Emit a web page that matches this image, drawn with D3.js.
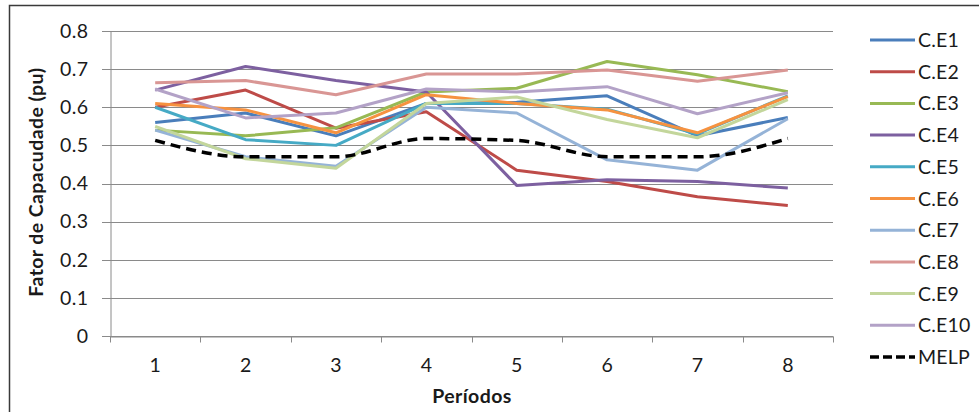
<!DOCTYPE html>
<html><head><meta charset="utf-8">
<script src="https://cdn.jsdelivr.net/npm/d3@7"></script>
<style>
html,body{margin:0;padding:0;background:#fff;}
svg{display:block;}
text{font-family:Lato,"Open Sans",sans-serif;fill:#1a1a1a;}
</style></head><body>
<svg id="chart" width="979" height="412"></svg>
<script>
const periods = ["1","2","3","4","5","6","7","8"];
const yTicks = [0,0.1,0.2,0.3,0.4,0.5,0.6,0.7,0.8];
const seriesNames = ["C.E1","C.E2","C.E3","C.E4","C.E5","C.E6","C.E7","C.E8","C.E9","C.E10","MELP"];
const ce1  = [0.560,0.585,0.525,0.610,0.613,0.630,0.525,0.573];
const ce2  = [0.600,0.645,0.545,0.588,0.435,0.405,0.365,0.342];
const ce3  = [0.540,0.525,0.546,0.640,0.650,0.720,0.685,0.641];
const ce4  = [0.645,0.707,0.670,0.640,0.395,0.410,0.405,0.388];
const ce5  = [0.600,0.515,0.500,0.610,0.610,0.595,0.530,0.630];
const ce6  = [0.610,0.593,0.533,0.633,0.610,0.593,0.533,0.628];
const ce7  = [0.540,0.470,0.445,0.600,0.585,0.462,0.435,0.570];
const ce8  = [0.664,0.670,0.633,0.687,0.687,0.698,0.668,0.698];
const ce9  = [0.550,0.465,0.440,0.610,0.627,0.568,0.520,0.620];
const ce10 = [0.648,0.572,0.585,0.648,0.640,0.654,0.583,0.638];
const melp = [0.513,0.470,0.470,0.518,0.513,0.470,0.470,0.518];
const colors = ["#4a7ebb","#be4b48","#98b954","#7d60a0","#46aac5","#f69240","#95b3d7","#d99694","#c3d69b","#b3a2c7","#000000"];

const allValues = [ce1,ce2,ce3,ce4,ce5,ce6,ce7,ce8,ce9,ce10,melp];

const svg = d3.select("#chart");
// outer frame
svg.append("rect").attr("x",9.5).attr("y",5.5).attr("width",1000).attr("height",500)
  .attr("fill","none").attr("stroke","#3a3a3a").attr("stroke-width",1.5);

const L = 110, R = 833, T = 31, B = 336;
const x = d3.scaleBand().domain(periods).range([L,R]).paddingInner(0).paddingOuter(0);
const y = d3.scaleLinear().domain([0,0.8]).range([B,T]);

// gridlines
svg.append("g").selectAll("line").data(yTicks).join("line")
  .attr("x1",L-8).attr("x2",R).attr("y1",d=>Math.round(y(d))+0.5).attr("y2",d=>Math.round(y(d))+0.5)
  .attr("stroke","#8a8a8a").attr("stroke-width",1);

// y axis
const yAxis = d3.axisLeft(y).tickValues(yTicks).tickSize(0).tickPadding(22).tickFormat(d=>d===0?"0":d3.format(".1f")(d));
const gy = svg.append("g").attr("transform",`translate(${L+0.5},0)`).call(yAxis);
gy.select(".domain").attr("stroke","#8a8a8a");
gy.selectAll("text").attr("font-size",19.5).attr("fill","#1a1a1a").style("font-family","Lato,sans-serif").attr("letter-spacing",0.4);

// x axis
const xAxis = d3.axisBottom(x).tickSize(0).tickPadding(22);
const gx = svg.append("g").attr("transform",`translate(0,${Math.round(B)+0.5})`).call(xAxis);
gx.select(".domain").attr("stroke","#8a8a8a");
gx.selectAll("text").attr("font-size",19.5).attr("fill","#1a1a1a").style("font-family","Lato,sans-serif");
// boundary tick marks
const bounds = periods.map(p=>x(p)).concat([R]);
gx.selectAll(".btick").data(bounds).join("line").attr("class","btick")
  .attr("x1",d=>Math.round(d)+0.5).attr("x2",d=>Math.round(d)+0.5).attr("y1",0).attr("y2",6)
  .attr("stroke","#8a8a8a");

// lines
const cx = i => x(periods[i]) + x.bandwidth()/2;
const lineGen = d3.line().x((d,i)=>cx(i)).y(d=>y(d));
const smoothGen = d3.line().x((d,i)=>cx(i)).y(d=>y(d)).curve(d3.curveMonotoneX);
allValues.forEach((vals,k)=>{
  const isM = k===10;
  svg.append("path").datum(vals)
    .attr("d", isM ? smoothGen : lineGen)
    .attr("fill","none").attr("stroke",colors[k])
    .attr("stroke-width", isM?3.5:3)
    .attr("stroke-linejoin","round")
    .attr("stroke-dasharray", isM?"10,6":null);
});

// axis titles
svg.append("text").attr("x",472).attr("y",403).attr("text-anchor","middle")
  .attr("font-size",19.5).attr("font-weight","bold").attr("letter-spacing",0.4).text("Períodos");
svg.append("text").attr("transform","translate(43,182) rotate(-90)").attr("text-anchor","middle")
  .attr("font-size",19.5).attr("font-weight","bold").attr("letter-spacing",0.4).text("Fator de Capacudade (pu)");

// legend
const lg = svg.append("g");
seriesNames.forEach((n,k)=>{
  const yy = 40 + k*31.7;
  lg.append("line").attr("x1",870).attr("x2",915).attr("y1",yy).attr("y2",yy)
    .attr("stroke",colors[k]).attr("stroke-width",k===10?3.5:3)
    .attr("stroke-dasharray",k===10?"9,4":null);
  lg.append("text").attr("x",918).attr("y",yy+7).attr("font-size",19.5).attr("letter-spacing",0.2).text(n);
});
</script>
</body></html>
